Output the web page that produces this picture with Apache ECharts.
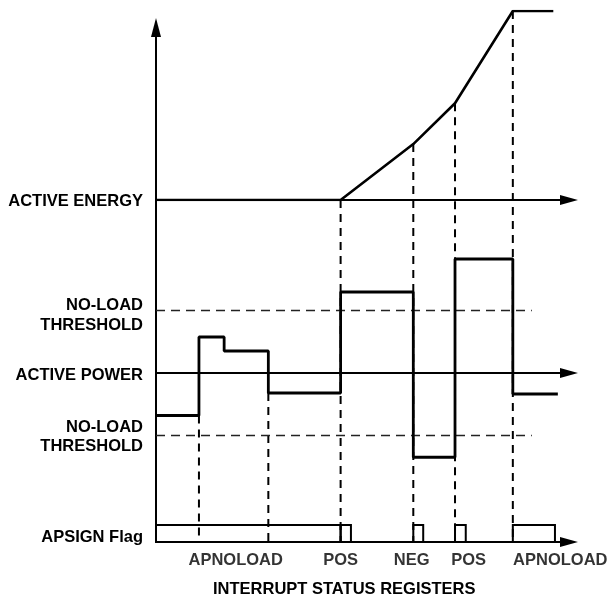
<!DOCTYPE html>
<html>
<head>
<meta charset="utf-8">
<script src="https://cdn.jsdelivr.net/npm/echarts@6/dist/echarts.min.js"></script>
<style>
  html, body { margin: 0; padding: 0; background: #fff; }
  #main { width: 607px; height: 598px; }
</style>
</head>
<body>
<div id="main"></div>
<script>
// Time base shared by all three traces (arbitrary units, 0..100)
const energyTimes  = [0, 44.7, 62.3, 72.4, 86.4, 96.2];
const energyValues = [0, 0, 29.6, 51.2, 100, 100];

// Active power level, held until the next transition
const powerTimes  = [0, 10.4, 16.5, 27.2, 44.7, 62.3, 72.4, 86.4, 97.3];
const powerValues = [-17, 14.4, 8.8, -8, 32.4, -33.7, 45.6, -8.4, -8.4];

// No-load threshold (symmetrical) and where its dashed guide ends
const noLoadThreshold = 25;
const thresholdEnd = 91;

// APSIGN flag pulses: start / end times
const flagStarts = [0, 44.7, 62.3, 72.4, 86.4];
const flagEnds   = [44.7, 47.2, 64.7, 75.0, 96.6];

// Dashed event markers dropping down to the flag baseline
const dropTimes = [10.4, 27.2, 44.7, 62.3, 72.4, 86.4];

// Interrupt status labels under the flag trace
const statusNames = ['APNOLOAD', 'POS', 'NEG', 'POS', 'APNOLOAD'];
const statusTimes = [19.3, 44.7, 61.9, 75.7, 97.9];

const FONT = { fontFamily: 'Liberation Sans, Arial, sans-serif', fontWeight: 'bold', fontSize: 16.5, color: '#000' };

const LEFT = 156, RIGHT = 38;
const arrowLine = { show: true, symbol: ['none', 'triangle'], symbolSize: [10, 18], lineStyle: { color: '#000', width: 2 } };
const hiddenBits = { axisTick: { show: false }, splitLine: { show: false } };

function xAx(gridIndex, showLine) {
  return Object.assign({
    type: 'value', gridIndex, min: 0, max: 100,
    axisLine: showLine ? arrowLine : { show: false },
    axisLabel: { show: false }
  }, hiddenBits);
}

// Text style with a little extra room on top, nudging the label down
function nudged(px, extra) {
  return Object.assign({ padding: [px, 0, 0, 0] }, FONT, extra || {});
}

const option = {
  animation: false,
  backgroundColor: '#fff',
  title: {
    text: 'INTERRUPT STATUS REGISTERS',
    left: 213, top: 581, padding: 0,
    textStyle: FONT
  },
  grid: [
    { left: LEFT, right: RIGHT, top: 11, height: 189 },        // energy
    { left: LEFT, right: RIGHT, top: 248, height: 250 },       // power
    { left: LEFT, right: RIGHT, top: 525, height: 17 },        // flag
    { left: LEFT, right: RIGHT, top: 27.5, bottom: 56 }        // main vertical axis
  ],
  xAxis: [xAx(0, true), xAx(1, true), xAx(2, true), xAx(3, false)],
  yAxis: [
    Object.assign({
      type: 'value', gridIndex: 0, min: 0, max: 100, interval: 100,
      axisLine: { show: false },
      axisLabel: Object.assign({
        margin: 13,
        formatter: v => v === 0 ? '{a|ACTIVE ENERGY}' : '',
        rich: { a: nudged(2) }
      }, FONT)
    }, hiddenBits),
    Object.assign({
      type: 'value', gridIndex: 1, min: -50, max: 50, interval: 25,
      axisLine: { show: false },
      axisLabel: Object.assign({
        margin: 13, lineHeight: 19.5,
        formatter: v => v === 0 ? '{p|ACTIVE POWER}'
          : (v === noLoadThreshold ? '{up|NO-LOAD\nTHRESHOLD}'
          : (v === -noLoadThreshold ? '{dn|NO-LOAD\nTHRESHOLD}' : '')),
        rich: {
          p: nudged(5),
          up: nudged(10, { lineHeight: 19.5 }),
          dn: nudged(3, { lineHeight: 19.5 })
        }
      }, FONT)
    }, hiddenBits),
    Object.assign({
      type: 'value', gridIndex: 2, min: 0, max: 1, interval: 0.5,
      axisLine: { show: false },
      axisLabel: Object.assign({
        margin: 13,
        formatter: v => v === 0.5 ? '{f|APSIGN Flag}' : '',
        rich: { f: nudged(7) }
      }, FONT)
    }, hiddenBits),
    Object.assign({
      type: 'value', gridIndex: 3, min: 0, max: 1,
      axisLine: { show: true, symbol: ['none', 'triangle'], symbolSize: [10, 19], lineStyle: { color: '#000', width: 2 } },
      axisLabel: { show: false }
    }, hiddenBits)
  ],
  series: [
    {
      name: 'Active energy', type: 'line', xAxisIndex: 0, yAxisIndex: 0,
      data: energyTimes.map((t, i) => [t, energyValues[i]]),
      symbol: 'none', lineStyle: { color: '#000', width: 2.6 }, z: 5
    },
    {
      name: 'Active power', type: 'line', xAxisIndex: 1, yAxisIndex: 1, step: 'end',
      data: powerTimes.map((t, i) => [t, powerValues[i]]),
      symbol: 'none', lineStyle: { color: '#000', width: 2.8 }, z: 5
    },
    {
      name: 'No-load +', type: 'line', xAxisIndex: 1, yAxisIndex: 1,
      data: [[0, noLoadThreshold], [thresholdEnd, noLoadThreshold]],
      symbol: 'none', lineStyle: { color: '#222', width: 1.5, type: [9, 6] }, z: 2
    },
    {
      name: 'No-load -', type: 'line', xAxisIndex: 1, yAxisIndex: 1,
      data: [[0, -noLoadThreshold], [thresholdEnd, -noLoadThreshold]],
      symbol: 'none', lineStyle: { color: '#222', width: 1.5, type: [9, 6] }, z: 2
    },
    {
      name: 'APSIGN', type: 'custom', xAxisIndex: 2, yAxisIndex: 2,
      data: flagStarts.map((s, i) => [s, flagEnds[i]]),
      renderItem: function (params, api) {
        const p0 = api.coord([api.value(0), 1]);
        const p1 = api.coord([api.value(1), 0]);
        return {
          type: 'rect',
          shape: { x: p0[0], y: p0[1], width: p1[0] - p0[0], height: p1[1] - p0[1] },
          style: { fill: 'none', stroke: '#000', lineWidth: 2 }
        };
      },
      z: 5
    },
    {
      name: 'Status', type: 'scatter', xAxisIndex: 2, yAxisIndex: 2, clip: false,
      data: statusTimes.map((t, i) => ({ value: [t, -1.06], name: statusNames[i] })),
      symbolSize: 1, itemStyle: { color: 'rgba(0,0,0,0)' },
      label: Object.assign({ show: true, position: 'inside', formatter: p => p.name }, FONT)
    }
  ]
};

const chart = echarts.init(document.getElementById('main'), null, { renderer: 'canvas' });
chart.setOption(option);

// Dashed markers: from the trace they belong to, down to the flag baseline
const markers = dropTimes.map(t => {
  let top;
  const ei = energyTimes.indexOf(t);
  if (ei >= 0) {
    top = chart.convertToPixel({ gridIndex: 0 }, [t, energyValues[ei]]);
  } else {
    const pi = powerTimes.indexOf(t);
    top = chart.convertToPixel({ gridIndex: 1 }, [t, Math.min(powerValues[pi - 1], powerValues[pi])]);
  }
  const bottom = chart.convertToPixel({ gridIndex: 2 }, [t, 0]);
  return {
    type: 'line', silent: true, z: 1,
    shape: { x1: top[0], y1: top[1], x2: bottom[0], y2: bottom[1] },
    style: { stroke: '#000', lineWidth: 2, lineDash: [8, 6] }
  };
});
chart.setOption({ graphic: markers });
</script>
</body>
</html>
